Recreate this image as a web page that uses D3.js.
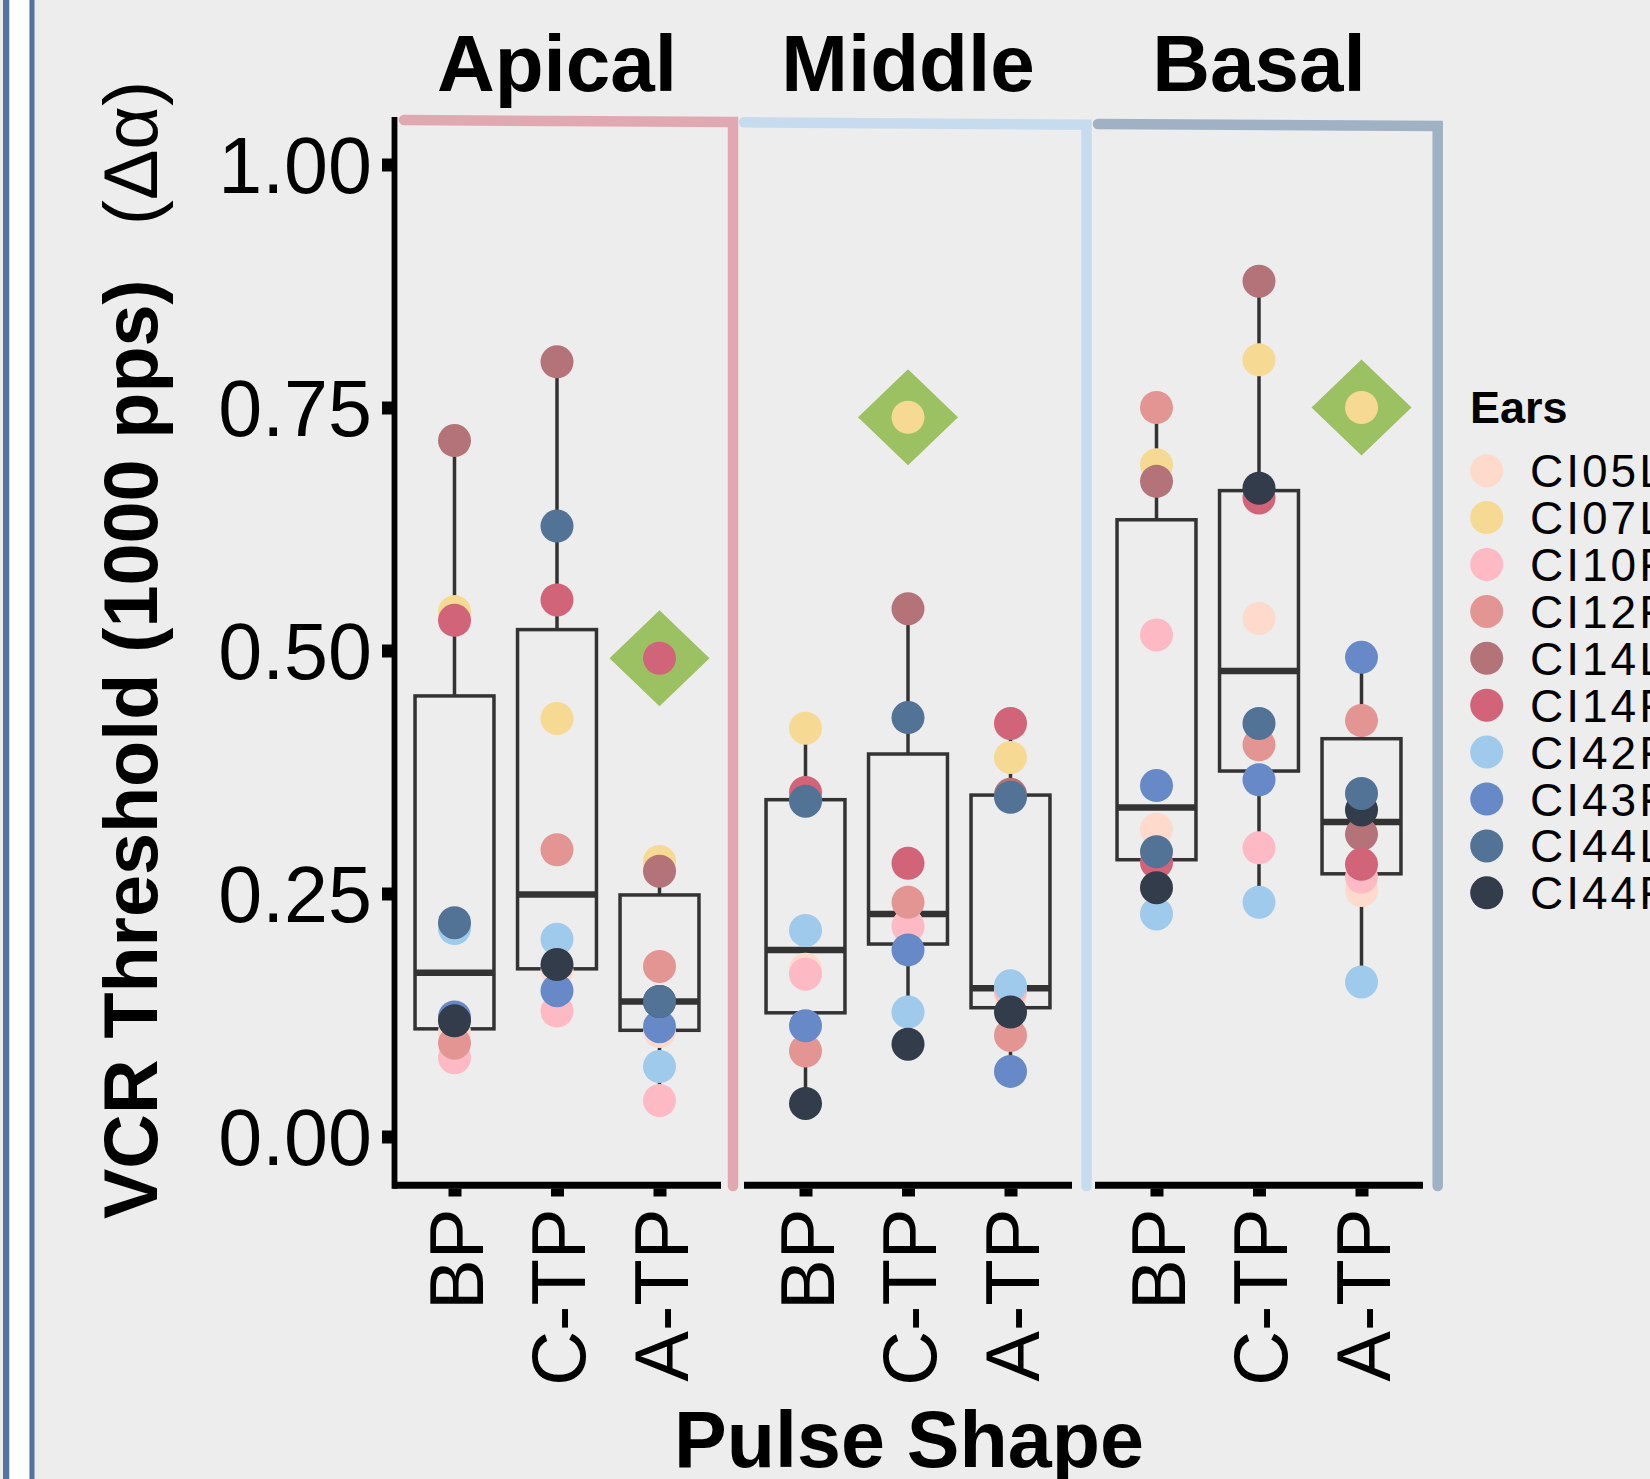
<!DOCTYPE html>
<html>
<head>
<meta charset="utf-8">
<script src="https://cdn.jsdelivr.net/npm/d3@7"></script>
<style>
  html, body { margin: 0; padding: 0; background: #ededed; }
  svg { display: block; font-family: "Liberation Sans", Arial, Helvetica, sans-serif; }
</style>
</head>
<body>
<svg id="chart" width="1650" height="1479"></svg>
<script>
// facets, pulse shapes and ears
var regions = ["Apical", "Middle", "Basal"];
var shapes = ["BP", "C-TP", "A-TP"];
var ears = ["CI05L", "CI07L", "CI10R", "CI12R", "CI14L", "CI14R", "CI42R", "CI43R", "CI44L", "CI44R"];
var earColors = ["#fddacb", "#f6d993", "#febac4", "#e39594", "#b47379", "#d16479", "#a0caeb", "#6889c8", "#527396", "#323c4a"];
var yTicks = [0, 0.25, 0.5, 0.75, 1];

// VCR thresholds, one value per ear (same order as ears)
var apicalBP  = [0.108, 0.540, 0.081, 0.096, 0.716, 0.531, 0.214, 0.123, 0.220, 0.119];
var apicalCTP = [0.171, 0.430, 0.129, 0.295, 0.797, 0.552, 0.203, 0.150, 0.628, 0.177];
var apicalATP = [0.108, 0.283, 0.037, 0.175, 0.273, 0.492, 0.072, 0.113, 0.139, 0.139];
var middleBP  = [0.172, 0.420, 0.167, 0.088, 0.347, 0.354, 0.212, 0.114, 0.345, 0.034];
var middleCTP = [0.217, 0.740, 0.216, 0.241, 0.543, 0.281, 0.128, 0.192, 0.431, 0.095];
var middleATP = [0.146, 0.390, 0.150, 0.104, 0.352, 0.425, 0.155, 0.067, 0.349, 0.128];
var basalBP   = [0.316, 0.691, 0.516, 0.750, 0.674, 0.282, 0.229, 0.361, 0.293, 0.256];
var basalCTP  = [0.533, 0.799, 0.297, 0.403, 0.880, 0.657, 0.241, 0.367, 0.425, 0.667];
var basalATP  = [0.253, 0.750, 0.267, 0.428, 0.311, 0.280, 0.159, 0.493, 0.353, 0.336];

var values = {
  "Apical": [apicalBP, apicalCTP, apicalATP],
  "Middle": [middleBP, middleCTP, middleATP],
  "Basal":  [basalBP, basalCTP, basalATP]
};

// order the points were plotted in (CI44L ends up on top)
var drawOrder = [0, 1, 2, 3, 4, 5, 6, 7, 9, 8];

var svg = d3.select("#chart");
var font = "'Liberation Sans', Arial, Helvetica, sans-serif";

// left frame strips
svg.append("rect").attr("x", 3).attr("y", 0).attr("width", 6.5).attr("height", 1479).attr("fill", "#54749e");
svg.append("rect").attr("x", 9.5).attr("y", 0).attr("width", 20).attr("height", 1479).attr("fill", "#ffffff");
svg.append("rect").attr("x", 29.5).attr("y", 0).attr("width", 5).attr("height", 1479).attr("fill", "#54749e");

var y = d3.scaleLinear().domain([0, 1]).range([1136.5, 164.5]);

var panel = d3.scaleBand().domain(regions).range([393, 1423]).paddingInner(23 / 351);
var x = d3.scalePoint().domain(shapes).range([0, panel.bandwidth()]).padding(0.6);
var step = x.step();
var boxW = step * 0.77;

var color = d3.scaleOrdinal().domain(ears).range(earColors);

// coloured facet frames
var frames = [
  {c: "#e0a9b2", x0: 404, y0: 120, x1: 733, y1: 122},
  {c: "#c6dcee", x0: 744, y0: 122.3, x1: 1086.5, y1: 124.7},
  {c: "#9fb1c3", x0: 1098, y0: 124, x1: 1437.7, y1: 126}
];
frames.forEach(function(f) {
  svg.append("path")
    .attr("d", "M" + f.x0 + "," + f.y0 + "L" + f.x1 + "," + f.y1 + "L" + f.x1 + ",1186")
    .attr("fill", "none")
    .attr("stroke", f.c)
    .attr("stroke-width", 10.5)
    .attr("stroke-linecap", "round")
    .attr("stroke-linejoin", "miter");
});

// y axis
var yAxis = svg.append("g")
    .attr("transform", "translate(392,0)")
    .call(d3.axisLeft(y).tickValues(yTicks).tickFormat(d3.format(".2f")).tickSize(10).tickPadding(10));
yAxis.select(".domain").remove();
yAxis.selectAll(".tick line").attr("stroke", "#000").attr("stroke-width", 13);
yAxis.selectAll(".tick text")
    .attr("fill", "#000")
    .attr("font-size", 79)
    .attr("font-family", font)
    .attr("dy", "0.355em");
svg.append("line")
    .attr("x1", 394.5).attr("x2", 394.5)
    .attr("y1", 117).attr("y2", 1188.8)
    .attr("stroke", "#000").attr("stroke-width", 5.8);

function boxStats(v) {
  var s = v.slice().sort(d3.ascending);
  var q1 = d3.quantile(s, 0.25), med = d3.quantile(s, 0.5), q3 = d3.quantile(s, 0.75);
  var iqr = q3 - q1;
  var inside = s.filter(function(d) { return d >= q1 - 1.5 * iqr && d <= q3 + 1.5 * iqr; });
  return {
    q1: q1, med: med, q3: q3,
    lo: d3.min(inside), hi: d3.max(inside),
    out: s.filter(function(d) { return d < q1 - 1.5 * iqr || d > q3 + 1.5 * iqr; })
  };
}

regions.forEach(function(region) {
  var g = svg.append("g").attr("transform", "translate(" + panel(region) + ",0)");

  // bottom axis
  g.append("line")
    .attr("x1", 0).attr("x2", panel.bandwidth())
    .attr("y1", 1185.3).attr("y2", 1185.3)
    .attr("stroke", "#000").attr("stroke-width", 7);
  var xAxis = g.append("g")
      .attr("transform", "translate(0,1188.5)")
      .call(d3.axisBottom(x).tickSize(8));
  xAxis.select(".domain").remove();
  xAxis.selectAll(".tick line").attr("stroke", "#000").attr("stroke-width", 13);
  xAxis.selectAll(".tick text")
      .attr("fill", "#000")
      .attr("font-size", 76)
      .attr("font-family", font)
      .attr("transform", "rotate(-90)")
      .attr("text-anchor", "end")
      .attr("x", -20)
      .attr("y", 27.5)
      .attr("dy", 0);

  // facet title
  g.append("text")
    .attr("x", x("C-TP"))
    .attr("y", 90.7)
    .attr("text-anchor", "middle")
    .attr("font-size", 80)
    .attr("font-weight", "bold")
    .attr("fill", "#000")
    .text(region);

  shapes.forEach(function(shape, i) {
    var v = values[region][i];
    var st = boxStats(v);
    var cx = x(shape);

    // whiskers
    g.append("line").attr("x1", cx).attr("x2", cx).attr("y1", y(st.q3)).attr("y2", y(st.hi))
      .attr("stroke", "#333").attr("stroke-width", 3.5);
    g.append("line").attr("x1", cx).attr("x2", cx).attr("y1", y(st.q1)).attr("y2", y(st.lo))
      .attr("stroke", "#333").attr("stroke-width", 3.5);
    // box
    g.append("rect")
      .attr("x", cx - boxW / 2).attr("width", boxW)
      .attr("y", y(st.q3)).attr("height", y(st.q1) - y(st.q3))
      .attr("fill", "none").attr("stroke", "#333").attr("stroke-width", 3.5);
    g.append("line")
      .attr("x1", cx - boxW / 2).attr("x2", cx + boxW / 2)
      .attr("y1", y(st.med)).attr("y2", y(st.med))
      .attr("stroke", "#333").attr("stroke-width", 6.5);
    // outliers as green diamonds
    st.out.forEach(function(o) {
      var oy = y(o);
      g.append("path")
        .attr("d", "M" + (cx - 50) + "," + oy + "L" + cx + "," + (oy - 48) + "L" + (cx + 50) + "," + oy + "L" + cx + "," + (oy + 48) + "Z")
        .attr("fill", "#9bc162");
    });

    // ear points
    g.selectAll(".pt-" + i)
      .data(drawOrder.map(function(k) { return {ear: ears[k], value: v[k]}; }))
      .enter().append("circle")
        .attr("class", "pt-" + i)
        .attr("cx", cx)
        .attr("cy", function(d) { return y(d.value); })
        .attr("r", 16.5)
        .attr("fill", function(d) { return color(d.ear); });
  });
});

// y axis title
var yTitle = svg.append("text")
    .attr("transform", "translate(157,1219) rotate(-90)")
    .attr("font-size", 75.5)
    .attr("fill", "#000");
yTitle.append("tspan").attr("font-weight", "bold").text("VCR Threshold (1000 pps)");
yTitle.append("tspan").attr("dx", 54).text("(Δα)");

// x axis title
svg.append("text")
  .attr("x", 909)
  .attr("y", 1466.7)
  .attr("text-anchor", "middle")
  .attr("font-size", 79)
  .attr("font-weight", "bold")
  .attr("fill", "#000")
  .text("Pulse Shape");

// legend
var legend = svg.append("g").attr("transform", "translate(1470,0)");
legend.append("text")
  .attr("x", 0).attr("y", 422.5)
  .attr("font-size", 45).attr("font-weight", "bold").attr("fill", "#000")
  .text("Ears");
var item = legend.selectAll(".item")
  .data(ears)
  .enter().append("g")
    .attr("class", "item")
    .attr("transform", function(d, i) { return "translate(0," + (470.7 + i * 46.9) + ")"; });
item.append("circle").attr("cx", 16.7).attr("r", 16.5).attr("fill", function(d) { return color(d); });
item.append("text")
  .attr("x", 60).attr("dy", "0.36em")
  .attr("font-size", 46).attr("letter-spacing", 3).attr("fill", "#000")
  .text(function(d) { return d; });
</script>
</body>
</html>
